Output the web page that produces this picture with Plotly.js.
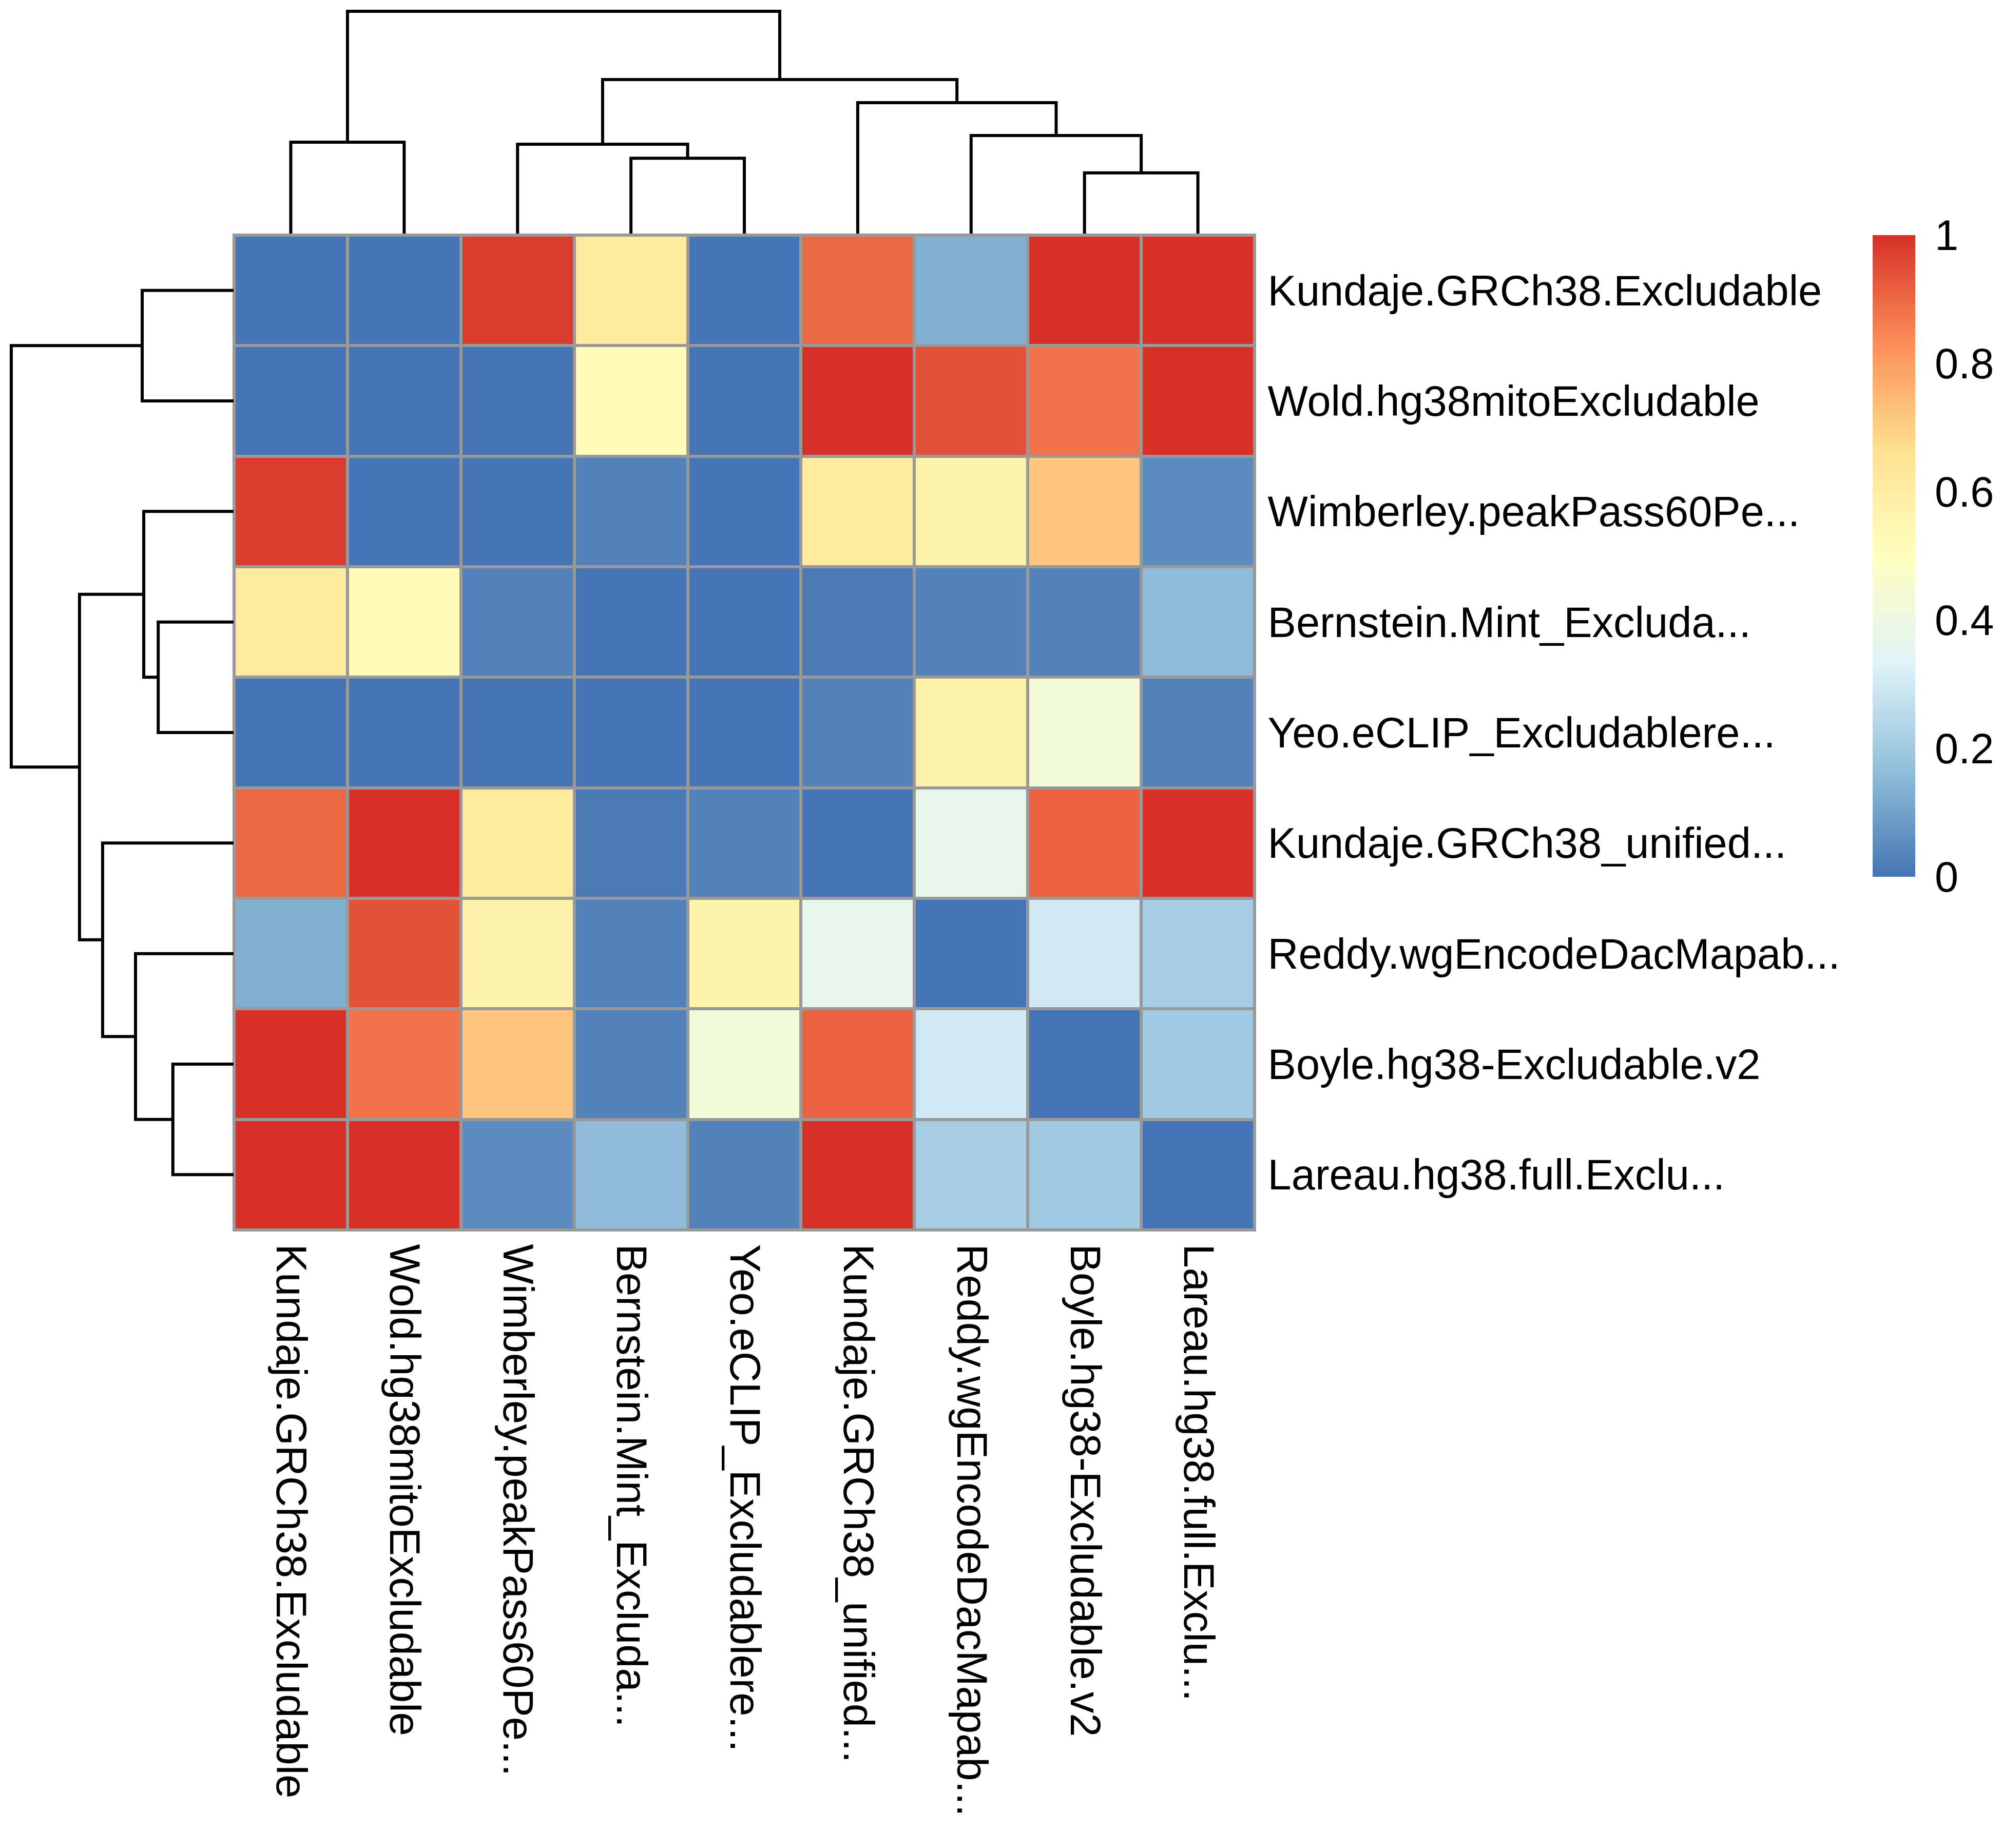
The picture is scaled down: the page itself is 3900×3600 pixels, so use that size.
<!DOCTYPE html>
<html>
<head>
<meta charset="utf-8">
<script src="https://cdn.plot.ly/plotly-3.0.1.min.js"></script>
<style>html,body{margin:0;padding:0;background:#ffffff;}</style>
</head>
<body>
<div id="plot" style="width:3900px;height:3600px"></div>
<script>
// ---- data ----
const labels = [
  "Kundaje.GRCh38.Excludable",
  "Wold.hg38mitoExcludable",
  "Wimberley.peakPass60Pe...",
  "Bernstein.Mint_Excluda...",
  "Yeo.eCLIP_Excludablere...",
  "Kundaje.GRCh38_unified...",
  "Reddy.wgEncodeDacMapab...",
  "Boyle.hg38-Excludable.v2",
  "Lareau.hg38.full.Exclu..."
];
const row1 = [0.00, 0.00, 0.98, 0.62, 0.00, 0.90, 0.13, 1.00, 1.00];
const row2 = [0.00, 0.00, 0.00, 0.52, 0.00, 1.00, 0.94, 0.88, 1.00];
const row3 = [0.98, 0.00, 0.00, 0.03, 0.00, 0.62, 0.57, 0.72, 0.05];
const row4 = [0.62, 0.52, 0.03, 0.00, 0.00, 0.01, 0.03, 0.03, 0.16];
const row5 = [0.00, 0.00, 0.00, 0.00, 0.00, 0.03, 0.57, 0.43, 0.03];
const row6 = [0.90, 1.00, 0.62, 0.01, 0.03, 0.00, 0.37, 0.91, 1.00];
const row7 = [0.13, 0.94, 0.57, 0.03, 0.57, 0.37, 0.00, 0.30, 0.21];
const row8 = [1.00, 0.88, 0.72, 0.03, 0.43, 0.91, 0.30, 0.00, 0.20];
const row9 = [1.00, 1.00, 0.05, 0.16, 0.03, 1.00, 0.21, 0.20, 0.00];
const values = [row1, row2, row3, row4, row5, row6, row7, row8, row9];

// hclust-style merges (negative = leaf position, positive = earlier merge step)
const colMergePairs   = [[-8,-9],[-4,-5],[-3,2],[-1,-2],[-7,1],[-6,5],[3,6],[4,7]];
const colMergeHeights = [0.273, 0.339, 0.402, 0.411, 0.441, 0.589, 0.693, 1.000];
const rowMergePairs   = [[-8,-9],[-4,-5],[-3,2],[-1,-2],[-7,1],[-6,5],[3,6],[4,7]];
const rowMergeHeights = [0.273, 0.339, 0.404, 0.411, 0.441, 0.589, 0.693, 1.000];

const legendTickVals = [0, 0.2, 0.4, 0.6, 0.8, 1];
const legendTickText = ["0", "0.2", "0.4", "0.6", "0.8", "1"];
const palette = ['#4575B4','#91BFDB','#E0F3F8','#FFFFBF','#FEE090','#FC8D59','#D73027'];

// ---- build ----
const idx = labels.map((_, i) => i);
function dendro(pairs, heights) {
  const center = [], height = [], pos = [], h = [];
  const node = id => id < 0 ? {c: -id - 1, h: 0} : {c: center[id - 1], h: height[id - 1]};
  pairs.forEach((p, i) => {
    const L = node(p[0]), R = node(p[1]), hh = heights[i];
    pos.push(L.c, L.c, R.c, R.c, null);
    h.push(L.h, hh, hh, R.h, null);
    center.push((L.c + R.c) / 2);
    height.push(hh);
  });
  return {pos, h};
}
const colD = dendro(colMergePairs, colMergeHeights);
const rowD = dendro(rowMergePairs, rowMergeHeights);

const W = 3900, H = 3600;
const hx0 = 456, hx1 = 2444, hy0 = 458, hy1 = 2396;
const FONT = '"Liberation Sans", Arial, Helvetica, sans-serif';
const colorscale = palette.map((c, i) => [i / (palette.length - 1), c]);

const traces = [
  {
    type: 'heatmap', z: values, x: idx, y: idx,
    zmin: 0, zmax: 1, colorscale: colorscale,
    xgap: 6, ygap: 6, hoverinfo: 'skip',
    colorbar: {
      thickness: 83, thicknessmode: 'pixels',
      len: 1250, lenmode: 'pixels',
      x: 3648 / W, xanchor: 'left', y: 1 - 458 / H, yanchor: 'top',
      xpad: 0, ypad: 0, outlinewidth: 0,
      tickmode: 'array', tickvals: legendTickVals, ticktext: legendTickText,
      ticks: 'outside', ticklen: 22, tickcolor: 'rgba(0,0,0,0)',
      tickfont: {family: FONT, size: 83, color: '#000'}
    }
  },
  {
    type: 'scatter', mode: 'lines', x: colD.pos, y: colD.h,
    xaxis: 'x2', yaxis: 'y2', line: {color: '#000', width: 6}, hoverinfo: 'skip'
  },
  {
    type: 'scatter', mode: 'lines', x: rowD.h, y: rowD.pos,
    xaxis: 'x3', yaxis: 'y3', line: {color: '#000', width: 6}, hoverinfo: 'skip'
  }
];

const hidden = {visible: false, showgrid: false, zeroline: false, fixedrange: true};
const layout = {
  width: W, height: H,
  margin: {l: 0, r: 0, t: 0, b: 0, pad: 0},
  paper_bgcolor: '#ffffff', plot_bgcolor: 'rgba(0,0,0,0)',
  showlegend: false,
  font: {family: FONT, size: 83, color: '#000'},
  xaxis: {
    domain: [hx0 / W, hx1 / W], range: [-0.5, 8.5], anchor: 'y',
    tickmode: 'array', tickvals: idx, ticktext: labels, tickangle: 90, side: 'bottom',
    showgrid: false, zeroline: false, showline: false,
    ticks: 'outside', ticklen: 10, tickcolor: 'rgba(0,0,0,0)',
    tickfont: {family: FONT, size: 83, color: '#000'}, automargin: false, fixedrange: true
  },
  yaxis: {
    domain: [1 - hy1 / H, 1 - hy0 / H], range: [8.5, -0.5], anchor: 'x',
    tickmode: 'array', tickvals: idx, ticktext: labels, side: 'right',
    showgrid: false, zeroline: false, showline: false,
    ticks: 'outside', ticklen: 8, tickcolor: 'rgba(0,0,0,0)',
    tickfont: {family: FONT, size: 83, color: '#000'}, automargin: false, fixedrange: true
  },
  xaxis2: Object.assign({domain: [hx0 / W, hx1 / W], range: [-0.5, 8.5], anchor: 'y2'}, hidden),
  yaxis2: Object.assign({domain: [1 - 455 / H, 1 - 15 / H], range: [0, 1.016], anchor: 'x2'}, hidden),
  xaxis3: Object.assign({domain: [15 / W, 455 / W], range: [1.016, 0], anchor: 'y3'}, hidden),
  yaxis3: Object.assign({domain: [1 - hy1 / H, 1 - hy0 / H], range: [8.5, -0.5], anchor: 'x3'}, hidden),
  shapes: [{
    type: 'rect', xref: 'paper', yref: 'paper', layer: 'below',
    x0: hx0 / W, x1: hx1 / W, y0: 1 - hy1 / H, y1: 1 - hy0 / H,
    fillcolor: '#999999', line: {color: '#999999', width: 6}
  }]
};

Plotly.newPlot('plot', traces, layout, {staticPlot: true, displayModeBar: false});
</script>
</body>
</html>
